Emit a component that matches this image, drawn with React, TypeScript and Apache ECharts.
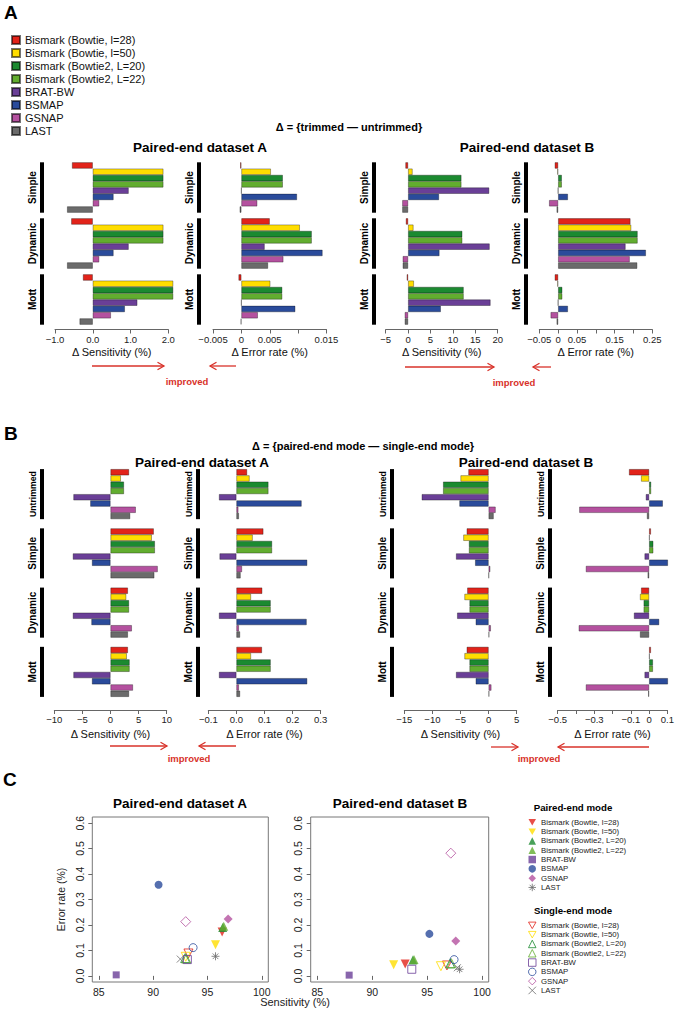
import React, { useEffect, useRef } from 'react';
import * as echarts from 'echarts';

// ---------- data ----------
const methods = [
  'Bismark (Bowtie, l=28)',
  'Bismark (Bowtie, l=50)',
  'Bismark (Bowtie2, L=20)',
  'Bismark (Bowtie2, L=22)',
  'BRAT-BW',
  'BSMAP',
  'GSNAP',
  'LAST',
];
const methodColors = ['#E2231A', '#FFDD00', '#1B8A30', '#62AD2F', '#6A3F97', '#2A4B9B', '#B4519F', '#6B6B6B'];

const trimRows = ['Simple', 'Dynamic', 'Mott'];
const modeRows = ['Untrimmed', 'Simple', 'Dynamic', 'Mott'];

// Panel A: trimmed - untrimmed  (rows x methods)
const trimSensA = [
  [-0.55, 1.87, 1.87, 1.87, 0.95, 0.55, 0.17, -0.68],
  [-0.57, 1.87, 1.87, 1.87, 0.95, 0.55, 0.17, -0.68],
  [-0.26, 2.13, 2.13, 2.13, 1.18, 0.85, 0.48, -0.35],
];
const trimErrA = [
  [-0.0002, 0.0052, 0.0073, 0.0073, 0.0, 0.0098, 0.0028, -0.0003],
  [0.005, 0.0103, 0.0124, 0.0124, 0.0041, 0.0143, 0.0074, 0.0047],
  [-0.0005, 0.0051, 0.0072, 0.0072, 0.0, 0.0095, 0.0029, -0.0001],
];
const trimSensB = [
  [-0.6, 1.0, 11.9, 11.9, 18.1, 6.9, -1.3, -1.3],
  [-0.5, 1.2, 12.1, 12.1, 18.2, 7.0, -1.2, -1.2],
  [-0.3, 1.3, 12.4, 12.4, 18.4, 7.3, -0.75, -0.75],
];
const trimErrB = [
  [-0.009, -0.002, 0.0098, 0.0098, 0.0, 0.026, -0.024, -0.004],
  [0.192, 0.194, 0.211, 0.211, 0.179, 0.233, 0.19, 0.21],
  [-0.009, -0.002, 0.011, 0.011, 0.0, 0.026, -0.02, -0.004],
];

// Panel B: paired-end mode - single-end mode
const modeSensA = [
  [3.3, 1.84, 2.4, 2.4, -6.6, -3.6, 4.5, 3.5],
  [7.7, 7.35, 7.9, 7.9, -6.7, -3.3, 8.4, 7.8],
  [3.1, 2.8, 3.3, 3.3, -6.7, -3.4, 3.8, 3.1],
  [3.1, 2.9, 3.4, 3.4, -6.6, -3.3, 4.0, 3.3],
];
const modeErrA = [
  [0.038, 0.047, 0.114, 0.114, -0.062, 0.232, 0.007, 0.009],
  [0.096, 0.058, 0.127, 0.127, -0.06, 0.252, 0.02, 0.015],
  [0.092, 0.052, 0.122, 0.122, -0.062, 0.25, 0.009, 0.013],
  [0.091, 0.052, 0.122, 0.122, -0.062, 0.252, 0.009, 0.013],
];
const modeSensB = [
  [-3.6, -5.0, -8.1, -8.1, -11.9, -5.2, 1.25, 0.9],
  [-3.9, -4.5, -3.5, -3.5, -5.8, -2.4, 0.3, 0.05],
  [-3.8, -4.3, -3.4, -3.4, -5.6, -2.3, 0.4, 0.1],
  [-3.9, -4.3, -3.4, -3.4, -5.8, -2.3, 0.5, 0.1],
];
const modeErrB = [
  [-0.11, -0.044, 0.011, 0.011, -0.018, 0.075, -0.382, -0.012],
  [0.01, 0.003, 0.023, 0.023, -0.025, 0.103, -0.346, -0.008],
  [-0.044, -0.05, -0.03, -0.03, -0.083, 0.055, -0.385, -0.05],
  [0.01, 0.003, 0.021, 0.021, -0.025, 0.103, -0.346, -0.005],
];

// Panel C: [sensitivity %, error rate %] per method
const scatterAPaired = [[96.35, 0.172], [95.74, 0.122], [96.4, 0.19], [96.5, 0.195], [86.6, 0.004], [90.5, 0.358], [96.9, 0.223], [95.74, 0.077]];
const scatterASingle = [[93.25, 0.088], [93.0, 0.075], [92.95, 0.07], [93.05, 0.068], [93.15, 0.064], [93.68, 0.111], [93.0, 0.213], [92.5, 0.066]];
const scatterBPaired = [[93.0, 0.047], [91.95, 0.044], [93.7, 0.062], [93.8, 0.064], [87.9, 0.003], [95.2, 0.165], [97.6, 0.137], [97.95, 0.026]];
const scatterBSingle = [[96.8, 0.041], [96.25, 0.038], [97.1, 0.049], [97.2, 0.05], [93.6, 0.026], [97.45, 0.064], [97.15, 0.482], [97.75, 0.032]];

// tick values / labels
const trimSensATicks = [-1, 0, 1, 2];
const trimSensALabelVals = [-1, 0, 1, 2];
const trimSensALabels = ['\u22121.0', '0.0', '1.0', '2.0'];
const trimErrATicks = [-0.005, 0, 0.005, 0.01, 0.015];
const trimErrALabelVals = [-0.005, 0, 0.005, 0.015];
const trimErrALabels = ['\u22120.005', '0', '0.005', '0.015'];
const trimSensBTicks = [-5, 0, 5, 10, 15, 20];
const trimSensBLabelVals = [-5, 0, 5, 10, 15, 20];
const trimSensBLabels = ['\u22125', '0', '5', '10', '15', '20'];
const trimErrBTicks = [-0.05, 0, 0.05, 0.1, 0.15, 0.2, 0.25];
const trimErrBLabelVals = [-0.05, 0, 0.05, 0.15, 0.25];
const trimErrBLabels = ['\u22120.05', '0', '0.05', '0.15', '0.25'];
const modeSensATicks = [-10, -5, 0, 5, 10];
const modeSensALabels = ['\u221210', '\u22125', '0', '5', '10'];
const modeErrATicks = [-0.1, 0, 0.1, 0.2, 0.3];
const modeErrALabels = ['\u22120.1', '0.0', '0.1', '0.2', '0.3'];
const modeSensBTicks = [-15, -10, -5, 0, 5];
const modeSensBLabels = ['\u221215', '\u221210', '\u22125', '0', '5'];
const modeErrBTicks = [-0.5, -0.4, -0.3, -0.2, -0.1, 0, 0.1];
const modeErrBLabelVals = [-0.5, -0.3, -0.1, 0, 0.1];
const modeErrBLabels = ['\u22120.5', '\u22120.3', '\u22120.1', '0', '0.1'];
const sensTicks = [85, 90, 95, 100];
const errTicks = [0, 0.1, 0.2, 0.3, 0.4, 0.5, 0.6];

// ---------- styling ----------
const FONT = "'Liberation Sans', Arial, Helvetica, sans-serif";
const AXIS_COLOR = '#666';
const RED = '#D8322A';
const DOWN_TRI = 'path://M0,0L10,0L5,8.66Z';
const ASTERISK = 'path://M5,0L5,10M0,5L10,5M1.5,1.5L8.5,8.5M8.5,1.5L1.5,8.5';
const XMARK = 'path://M0,0L10,10M10,0L0,10';
const pairedSymbols = [DOWN_TRI, DOWN_TRI, 'triangle', 'triangle', 'rect', 'circle', 'diamond', ASTERISK];
const singleSymbols = [DOWN_TRI, DOWN_TRI, 'triangle', 'triangle', 'rect', 'circle', 'diamond', XMARK];
const pairedSizes = [9, 9, 9, 9, 7, 8, 9, 8];
const singleSizes = [9, 9, 9, 9, 8, 8, 10, 7];

function labelFormatter(vals: number[], texts: string[]) {
  return (v: number) => {
    const i = vals.findIndex((t) => Math.abs(t - v) < 1e-9);
    return i >= 0 ? texts[i] : '';
  };
}

function pairedStyle(k: number) {
  const c = methodColors[k];
  return k === 7
    ? { color: 'rgba(0,0,0,0)', borderColor: c, borderWidth: 1 }
    : { color: c, borderColor: c, borderWidth: 0 };
}
function singleStyle(k: number) {
  return { color: 'rgba(255,255,255,0)', borderColor: methodColors[k], borderWidth: 1 };
}

type BarPanel = {
  rows: string[];
  values: number[][];
  left: number;
  width: number;
  top: number;
  height: number;
  gap: string;
  offset: number;
  ticks: number[];
  labelVals: number[];
  labelTexts: string[];
  name: string;
  nameGap: number;
  labelMargin: number;
  labelBar: number;
  rowFont: number;
};

function buildOption() {
  const grid: any[] = [];
  const xAxis: any[] = [];
  const yAxis: any[] = [];
  const series: any[] = [];

  const addBarPanel = (p: BarPanel) => {
    const gi = grid.length;
    grid.push({ left: p.left, top: p.top, width: p.width, height: p.height });
    xAxis.push({
      gridIndex: gi,
      type: 'value',
      min: p.ticks[0],
      max: p.ticks[p.ticks.length - 1],
      interval: p.ticks[1] - p.ticks[0],
      offset: p.offset,
      axisLine: { show: true, onZero: false, lineStyle: { color: AXIS_COLOR, width: 1 } },
      axisTick: { show: true, customValues: p.ticks, length: 4, lineStyle: { color: AXIS_COLOR } },
      axisLabel: {
        customValues: p.labelVals,
        formatter: labelFormatter(p.labelVals, p.labelTexts),
        fontSize: 9.5,
        fontFamily: FONT,
        color: '#222',
        margin: p.labelMargin,
      },
      splitLine: { show: false },
      name: p.name,
      nameLocation: 'middle',
      nameGap: p.nameGap,
      nameTextStyle: { fontSize: 11, fontFamily: FONT, color: '#111' },
    });
    yAxis.push({ gridIndex: gi, type: 'category', data: p.rows, inverse: true, show: false });
    methods.forEach((m, k) => {
      series.push({
        type: 'bar',
        name: m,
        xAxisIndex: gi,
        yAxisIndex: gi,
        data: p.rows.map((_, r) => p.values[r][k]),
        barGap: '0%',
        barCategoryGap: p.gap,
        clip: false,
        silent: true,
        itemStyle: { color: methodColors[k], borderColor: 'rgba(0,0,0,0.55)', borderWidth: 0.6 },
      });
    });
    // black row markers with row labels
    const li = grid.length;
    grid.push({ left: p.labelBar, top: p.top, width: 4, height: p.height });
    xAxis.push({ gridIndex: li, type: 'value', min: 0, max: 1, show: false });
    yAxis.push({
      gridIndex: li,
      type: 'category',
      data: p.rows,
      inverse: true,
      axisLine: { show: false },
      axisTick: { show: false },
      axisLabel: {
        interval: 0,
        rotate: 90,
        margin: 3,
        fontSize: p.rowFont,
        fontWeight: 'bold',
        fontFamily: FONT,
        color: '#000',
        formatter: (v: string) => (v === 'Untrimmed' ? `{s|${v}}` : v),
        rich: { s: { fontSize: p.rowFont - 1.3, fontWeight: 'bold', fontFamily: FONT, color: '#000' } },
      },
    });
    series.push({
      type: 'bar',
      xAxisIndex: li,
      yAxisIndex: li,
      data: p.rows.map(() => 1),
      barCategoryGap: p.gap,
      silent: true,
      itemStyle: { color: '#000' },
    });
  };

  const aTop = 159.5, aH = 168, aGap = '10%', aOff = 2;
  addBarPanel({ rows: trimRows, values: trimSensA, left: 55, width: 113.3, top: aTop, height: aH, gap: aGap, offset: aOff, ticks: trimSensATicks, labelVals: trimSensALabelVals, labelTexts: trimSensALabels, name: '\u0394 Sensitivity (%)', nameGap: 17, labelMargin: 5, labelBar: 40, rowFont: 10 });
  addBarPanel({ rows: trimRows, values: trimErrA, left: 213, width: 113.5, top: aTop, height: aH, gap: aGap, offset: aOff, ticks: trimErrATicks, labelVals: trimErrALabelVals, labelTexts: trimErrALabels, name: '\u0394 Error rate (%)', nameGap: 17, labelMargin: 5, labelBar: 197, rowFont: 10 });
  addBarPanel({ rows: trimRows, values: trimSensB, left: 385.7, width: 112, top: aTop, height: aH, gap: aGap, offset: aOff, ticks: trimSensBTicks, labelVals: trimSensBLabelVals, labelTexts: trimSensBLabels, name: '\u0394 Sensitivity (%)', nameGap: 17, labelMargin: 5, labelBar: 372, rowFont: 10 });
  addBarPanel({ rows: trimRows, values: trimErrB, left: 539.3, width: 113, top: aTop, height: aH, gap: aGap, offset: aOff, ticks: trimErrBTicks, labelVals: trimErrBLabelVals, labelTexts: trimErrBLabels, name: '\u0394 Error rate (%)', nameGap: 17, labelMargin: 5, labelBar: 524, rowFont: 10 });

  const bTop = 464.5, bH = 237, bGap = '15.5%', bOff = 8.5;
  addBarPanel({ rows: modeRows, values: modeSensA, left: 54.3, width: 112.4, top: bTop, height: bH, gap: bGap, offset: bOff, ticks: modeSensATicks, labelVals: modeSensATicks, labelTexts: modeSensALabels, name: '\u0394 Sensitivity (%)', nameGap: 18, labelMargin: 4.5, labelBar: 40, rowFont: 10 });
  addBarPanel({ rows: modeRows, values: modeErrA, left: 208.3, width: 112.4, top: bTop, height: bH, gap: bGap, offset: bOff, ticks: modeErrATicks, labelVals: modeErrATicks, labelTexts: modeErrALabels, name: '\u0394 Error rate (%)', nameGap: 18, labelMargin: 4.5, labelBar: 196, rowFont: 10 });
  addBarPanel({ rows: modeRows, values: modeSensB, left: 404.3, width: 112.4, top: bTop, height: bH, gap: bGap, offset: bOff, ticks: modeSensBTicks, labelVals: modeSensBTicks, labelTexts: modeSensBLabels, name: '\u0394 Sensitivity (%)', nameGap: 18, labelMargin: 4.5, labelBar: 390, rowFont: 10 });
  addBarPanel({ rows: modeRows, values: modeErrB, left: 557.7, width: 112.6, top: bTop, height: bH, gap: bGap, offset: bOff, ticks: modeErrBTicks, labelVals: modeErrBLabelVals, labelTexts: modeErrBLabels, name: '\u0394 Error rate (%)', nameGap: 18, labelMargin: 4.5, labelBar: 548, rowFont: 10 });

  const addScatter = (left: number, width: number, paired: number[][], single: number[][], yName: string) => {
    const gi = grid.length;
    grid.push({ left, top: 817, width, height: 165, show: true, borderColor: '#777', borderWidth: 1, backgroundColor: 'transparent' });
    xAxis.push({
      gridIndex: gi,
      type: 'value',
      min: 84.4,
      max: 100.6,
      axisLine: { show: false },
      axisTick: { show: true, customValues: sensTicks, length: 4, lineStyle: { color: AXIS_COLOR } },
      axisLabel: { customValues: sensTicks, fontSize: 10.5, fontFamily: FONT, color: '#222', margin: 4 },
      splitLine: { show: false },
    });
    yAxis.push({
      gridIndex: gi,
      type: 'value',
      min: -0.024,
      max: 0.624,
      axisLine: { show: false },
      axisTick: { show: true, customValues: errTicks, length: 4, lineStyle: { color: AXIS_COLOR } },
      axisLabel: {
        customValues: errTicks,
        rotate: 90,
        formatter: (v: number) => v.toFixed(1),
        fontSize: 10.5,
        fontFamily: FONT,
        color: '#222',
        margin: 7,
      },
      splitLine: { show: false },
      name: yName,
      nameLocation: 'middle',
      nameGap: 26,
      nameTextStyle: { fontSize: 10.5, fontFamily: FONT, color: '#222' },
    });
    methods.forEach((m, k) => {
      series.push({
        type: 'scatter',
        name: 'P|' + m,
        xAxisIndex: gi,
        yAxisIndex: gi,
        data: [paired[k]],
        symbol: pairedSymbols[k],
        symbolSize: pairedSizes[k],
        silent: true,
        itemStyle: pairedStyle(k),
      });
    });
    methods.forEach((m, k) => {
      series.push({
        type: 'scatter',
        name: 'S|' + m,
        xAxisIndex: gi,
        yAxisIndex: gi,
        data: [single[k]],
        symbol: singleSymbols[k],
        symbolSize: singleSizes[k],
        silent: true,
        itemStyle: singleStyle(k),
      });
    });
  };
  addScatter(92.3, 176, scatterAPaired, scatterASingle, 'Error rate (%)');
  addScatter(310.7, 178, scatterBPaired, scatterBSingle, '');

  // ---------- texts and annotations ----------
  const txt = (text: string, x: number, y: number, size: number, bold = false, color = '#000', align = 'center') => ({
    type: 'text',
    x,
    y,
    silent: true,
    style: { text, fill: color, fontSize: size, fontWeight: bold ? 'bold' : 'normal', fontFamily: FONT, align, verticalAlign: 'middle' },
  });
  const arrow = (x1: number, x2: number, y: number) => {
    const d = x2 > x1 ? 1 : -1;
    return [
      { type: 'line', silent: true, shape: { x1, y1: y, x2, y2: y }, style: { stroke: RED, lineWidth: 1.3 } },
      { type: 'polyline', silent: true, shape: { points: [[x2 - d * 6.5, y - 3.8], [x2, y], [x2 - d * 6.5, y + 3.8]] }, style: { stroke: RED, lineWidth: 1.3, fill: 'none' } },
    ];
  };

  const graphic: any[] = [
    txt('A', 4, 12, 19, true, '#000', 'left'),
    txt('\u0394 = {trimmed \u2014 untrimmed}', 349, 127, 11, true),
    txt('Paired-end dataset A', 200, 147, 13.5, true),
    txt('Paired-end dataset B', 527, 147, 13.5, true),
    ...arrow(92, 164, 366),
    ...arrow(236, 210, 366),
    txt('improved', 187, 381, 9.5, true, RED),
    ...arrow(405, 494, 367),
    ...arrow(551, 533, 367),
    txt('improved', 514, 382, 9.5, true, RED),
    txt('B', 4, 433, 19, true, '#000', 'left'),
    txt('\u0394 = {paired-end mode \u2014 single-end mode}', 363, 446, 11, true),
    txt('Paired-end dataset A', 202, 462, 13.5, true),
    txt('Paired-end dataset B', 526, 462, 13.5, true),
    ...arrow(110, 167, 746),
    ...arrow(236, 199, 746),
    txt('improved', 189, 758, 9.5, true, RED),
    ...arrow(491, 518, 747),
    ...arrow(649, 558, 747),
    txt('improved', 539, 758, 9.5, true, RED),
    txt('C', 3, 779, 19, true, '#000', 'left'),
    txt('Paired-end dataset A', 180, 803, 13.5, true),
    txt('Paired-end dataset B', 400, 803, 13.5, true),
    txt('Sensitivity (%)', 295, 1002, 11, false, '#222'),
    txt('Paired-end mode', 573, 807, 9.7, true),
    txt('Single-end mode', 573, 910, 9.7, true),
  ];

  const legendText = { fontSize: 7.8, lineHeight: 9.3, fontFamily: FONT, color: '#222' };
  const legend = [
    {
      data: methods,
      left: 11,
      top: 33.5,
      orient: 'vertical',
      icon: 'rect',
      itemWidth: 8,
      itemHeight: 8,
      itemGap: 0,
      padding: 0,
      selectedMode: false,
      textStyle: { fontSize: 11, lineHeight: 13, fontFamily: FONT, color: '#111' },
    },
    {
      data: methods.map((m, k) => ({
        name: 'P|' + m,
        icon: pairedSymbols[k],
        itemStyle: pairedStyle(k),
      })),
      left: 528,
      top: 817.7,
      orient: 'vertical',
      itemWidth: 7.5,
      itemHeight: 7.5,
      itemGap: 0,
      padding: 0,
      selectedMode: false,
      formatter: (n: string) => n.slice(2),
      textStyle: legendText,
    },
    {
      data: methods.map((m, k) => ({
        name: 'S|' + m,
        icon: singleSymbols[k],
        itemStyle: singleStyle(k),
      })),
      left: 528,
      top: 920.7,
      orient: 'vertical',
      itemWidth: 7.5,
      itemHeight: 7.5,
      itemGap: 0,
      padding: 0,
      selectedMode: false,
      formatter: (n: string) => n.slice(2),
      textStyle: legendText,
    },
  ];

  return {
    animation: false,
    backgroundColor: '#fff',
    textStyle: { fontFamily: FONT },
    grid,
    xAxis,
    yAxis,
    series,
    legend,
    graphic,
  };
}

export default function App() {
  const ref = useRef<HTMLDivElement>(null);
  useEffect(() => {
    if (!ref.current) return;
    const chart = echarts.init(ref.current, undefined, { renderer: 'svg' });
    chart.setOption(buildOption() as any);
    return () => chart.dispose();
  }, []);
  return <div ref={ref} style={{ position: 'absolute', left: 0, top: 0, width: 677, height: 1019 }} />;
}
